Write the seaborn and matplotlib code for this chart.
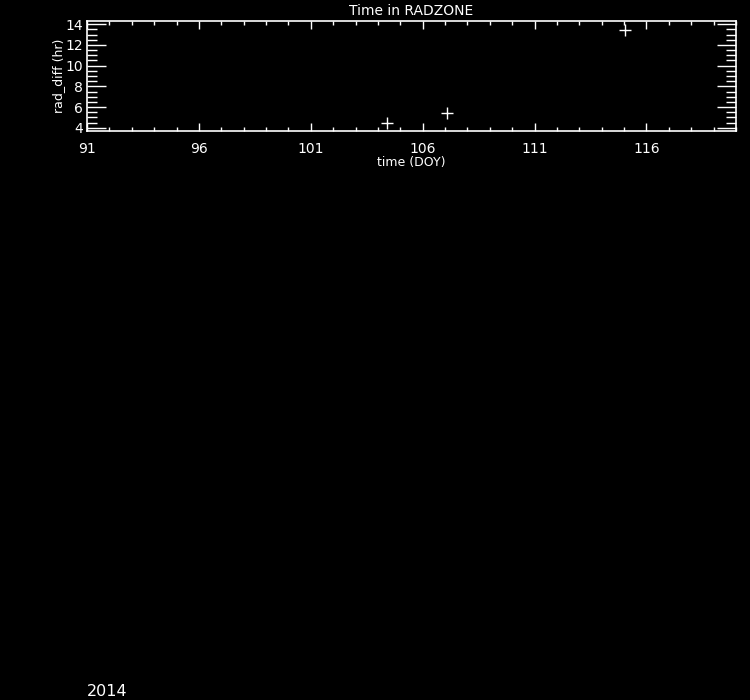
import matplotlib
matplotlib.use("Agg")
import matplotlib.pyplot as plt
import seaborn as sns
import pandas as pd
from matplotlib.ticker import MultipleLocator

# Data
doy = [104.41, 107.07, 115.02]
rad_diff = [4.48, 5.39, 13.42]
xtick_labels = ["91", "96", "101", "106", "111", "116"]
year_label = "2014"

sns.set_style("dark")
plt.rcParams['font.family'] = ['DejaVu Sans']

fig = plt.figure(figsize=(7.5, 7.0), dpi=100, facecolor="black")
ax = fig.add_axes([87/750, 1 - 131/700, (736 - 87)/750, (131 - 21)/700])
ax.set_facecolor("black")

df = pd.DataFrame({"doy": doy, "rad_diff": rad_diff})
sns.scatterplot(data=df, x="doy", y="rad_diff", ax=ax, marker="+", s=80,
                color="white", linewidth=1.0, legend=False)

ax.set_xlim(91, 120)
ax.set_ylim(3.68, 14.32)
ax.set_xticks([int(t) for t in xtick_labels])
ax.set_xticklabels(xtick_labels)
ax.xaxis.set_minor_locator(MultipleLocator(1))
ax.set_yticks([4, 6, 8, 10, 12, 14])
ax.yaxis.set_minor_locator(MultipleLocator(0.5))
ax.grid(False)

for sp in ax.spines.values():
    sp.set_color("white")
    sp.set_linewidth(1.2)

ax.tick_params(axis="x", which="major", direction="in", length=6, width=1,
               colors="white", top=True, bottom=True, labelsize=10, pad=8)
ax.tick_params(axis="x", which="minor", direction="in", length=3, width=1,
               colors="white", top=True, bottom=True)
ax.tick_params(axis="y", which="major", direction="in", length=14, width=1,
               colors="white", left=True, right=True, labelsize=10, pad=3)
ax.tick_params(axis="y", which="minor", direction="in", length=7, width=1,
               colors="white", left=True, right=True)

ax.set_title("Time in RADZONE", color="white", fontsize=10, pad=4)
ax.set_xlabel("time (DOY)", color="white", fontsize=9, labelpad=0)
ax.set_ylabel("rad_diff (hr)", color="white", fontsize=9, labelpad=0)

fig.text(87/750, 1 - 692/700, year_label, color="white", fontsize=11.5,
         ha="left", va="center")

fig.savefig("out.png", dpi=100, facecolor="black")
